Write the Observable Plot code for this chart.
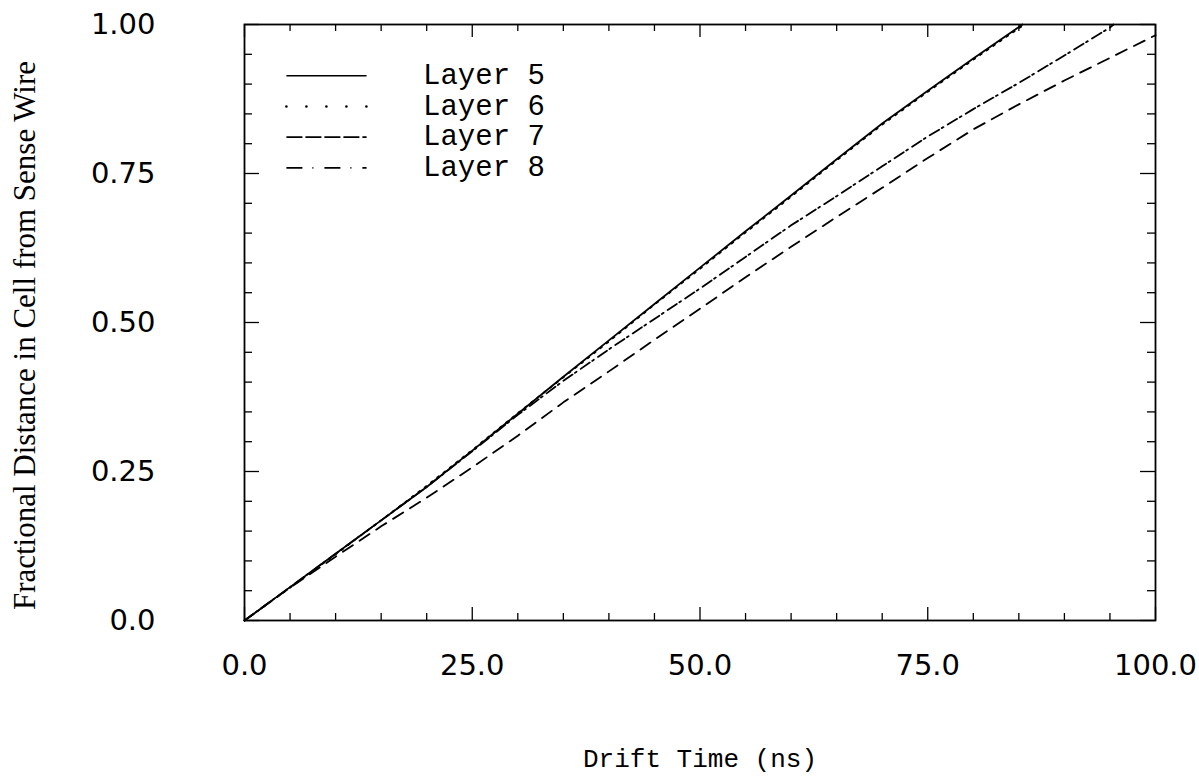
<!DOCTYPE html>
<html><head><meta charset="utf-8">
<script src="https://cdn.jsdelivr.net/npm/d3@7"></script>
<script src="https://cdn.jsdelivr.net/npm/@observablehq/plot@0.6"></script>
<style>
body{margin:0;background:#fff;}
#chart{width:1199px;height:781px;}
</style>
</head><body><div id="chart"></div>
<script>
// ---- data ----
const layerNames = ["Layer 5", "Layer 6", "Layer 7", "Layer 8"];

const layer5Time = [0,5,10,15,20,25,30,35,40,45,50,55,60,65,70,75,80,85.4];
const layer5Dist = [0,0.056,0.112,0.168,0.224,0.285,0.347,0.409,0.47,0.531,0.592,0.653,0.713,0.774,0.834,0.889,0.943,1.0];

const layer6Time = [0,5,10,15,20,25,30,35,40,45,50,55,60,65,70,75,80,85.6];
const layer6Dist = [0,0.055,0.111,0.168,0.226,0.286,0.348,0.408,0.468,0.53,0.59,0.651,0.711,0.772,0.832,0.887,0.941,1.0];

const layer7Time = [0,5,10,15,20,25,30,35,40,45,50,55,60,65,70,75,80,85,90,95,100];
const layer7Dist = [0,0.055,0.107,0.158,0.206,0.257,0.31,0.366,0.418,0.471,0.523,0.576,0.627,0.677,0.726,0.776,0.824,0.866,0.906,0.944,0.982];

const layer8Time = [0,5,10,15,20,25,30,35,40,45,50,55,60,65,70,75,80,85,90,95,95.4];
const layer8Dist = [0,0.056,0.112,0.168,0.224,0.284,0.345,0.402,0.455,0.506,0.557,0.61,0.663,0.712,0.762,0.812,0.858,0.902,0.948,0.995,1.0];

const xTickValues = [0, 25, 50, 75, 100];
const xTickLabels = ["0.0", "25.0", "50.0", "75.0", "100.0"];
const yTickValues = [0, 0.25, 0.5, 0.75, 1.0];
const yTickLabels = ["0.0", "0.25", "0.50", "0.75", "1.00"];
const xMinorStep = 5;
const yMinorStep = 0.05;

const xTitle = "Drift Time (ns)";
const yTitle = "Fractional Distance in Cell from Sense Wire";

// ---- build tables ----
const times = [layer5Time, layer6Time, layer7Time, layer8Time];
const dists = [layer5Dist, layer6Dist, layer7Dist, layer8Dist];
const series = layerNames.map((name, k) =>
  times[k].map((t, i) => ({layer: name, t, d: dists[k][i]})));

const dashCurve = {"Layer 5": null, "Layer 6": "2,6", "Layer 7": "12,8", "Layer 8": "11,3,2,5"};
const dashLegend = {"Layer 5": null, "Layer 6": "0,20", "Layer 7": "16,3", "Layer 8": "16,10,1,11"};
const capLegend = {"Layer 5": "butt", "Layer 6": "round", "Layer 7": "butt", "Layer 8": "butt"};

const xMinor = d3.range(0, 100 + 1e-9, xMinorStep).filter(v => !xTickValues.includes(v));
const yMinor = d3.range(0, 1 + 1e-9, yMinorStep).map(v => +v.toFixed(2)).filter(v => !yTickValues.includes(v));

const W = 1199, H = 781, mL = 244, mR = 44, mT = 24, mB = 161;
const plotW = W - mL - mR, plotH = H - mT - mB;
const majorLen = 13, minorLen = 7;

// legend rows (in data space, upper-left of frame)
const legendLineX = [4.6, 13.4];
const legendTextX = 19.6;
const legendRowY = layerNames.map((_, i) => 0.914 - i * 0.0515);

const marks = [];
series.forEach((s, k) => {
  const name = layerNames[k];
  marks.push(Plot.line(s, {x: "t", y: "d", stroke: "#000", strokeWidth: 1.8,
    strokeDasharray: dashCurve[name]}));
  const lg = legendLineX.map(x => ({x, y: legendRowY[k]}));
  marks.push(Plot.line(lg, {x: "x", y: "y", stroke: "#000",
    strokeWidth: name === "Layer 6" ? 2.6 : 1.6,
    strokeDasharray: dashLegend[name], strokeLinecap: capLegend[name]}));
});
marks.push(Plot.text(layerNames, {x: () => legendTextX, y: (d, i) => legendRowY[i], text: d => d,
  textAnchor: "start", lineAnchor: "middle", fontFamily: "Liberation Mono, DejaVu Sans Mono, monospace",
  fontSize: 29, fill: "#000", dy: -1}));

// frame
marks.push(Plot.frame({stroke: "#000", strokeWidth: 1.8}));

// inward ticks
const tickStyle = {stroke: "#000", strokeWidth: 1.3};
marks.push(Plot.ruleX(xTickValues, {x: d => d, insetTop: plotH - majorLen, ...tickStyle}));
marks.push(Plot.ruleX(xMinor, {x: d => d, insetTop: plotH - minorLen, ...tickStyle}));
marks.push(Plot.ruleX(xTickValues, {x: d => d, insetBottom: plotH - majorLen, ...tickStyle}));
marks.push(Plot.ruleX(xMinor, {x: d => d, insetBottom: plotH - minorLen, ...tickStyle}));
marks.push(Plot.ruleY(yTickValues, {y: d => d, insetRight: plotW - 15, ...tickStyle}));
marks.push(Plot.ruleY(yMinor, {y: d => d, insetRight: plotW - 8, ...tickStyle}));
marks.push(Plot.ruleY(yTickValues, {y: d => d, insetLeft: plotW - 15, ...tickStyle}));
marks.push(Plot.ruleY(yMinor, {y: d => d, insetLeft: plotW - 8, ...tickStyle}));

// tick labels
marks.push(Plot.axisX(xTickValues, {anchor: "bottom", tickSize: 0, tickPadding: 34,
  tickFormat: d => xTickLabels[xTickValues.indexOf(d)], label: null,
  fontSize: 29, fontFamily: "DejaVu Sans, sans-serif", fill: "#000"}));
marks.push(Plot.axisY(yTickValues, {anchor: "left", tickSize: 0, tickPadding: 89,
  tickFormat: d => yTickLabels[yTickValues.indexOf(d)], label: null,
  fontSize: 29, fontFamily: "DejaVu Sans, sans-serif", fill: "#000"}));

// titles
marks.push(Plot.text([xTitle], {frameAnchor: "bottom", dy: 146, text: d => d,
  fontFamily: "Liberation Mono, DejaVu Sans Mono, monospace", fontSize: 26, fill: "#000"}));
marks.push(Plot.text([yTitle], {frameAnchor: "left", textAnchor: "middle", dx: -219, dy: 13, rotate: -90, text: d => d,
  fontFamily: "Liberation Serif, DejaVu Serif, serif", fontSize: 31, fill: "#000"}));

const chart = Plot.plot({
  width: W, height: H,
  marginLeft: mL, marginRight: mR, marginTop: mT, marginBottom: mB,
  x: {domain: [0, 100]},
  y: {domain: [0, 1]},
  style: {background: "#fff", color: "#000", overflow: "visible"},
  marks
});
document.getElementById("chart").appendChild(chart);
</script>
</body></html>
